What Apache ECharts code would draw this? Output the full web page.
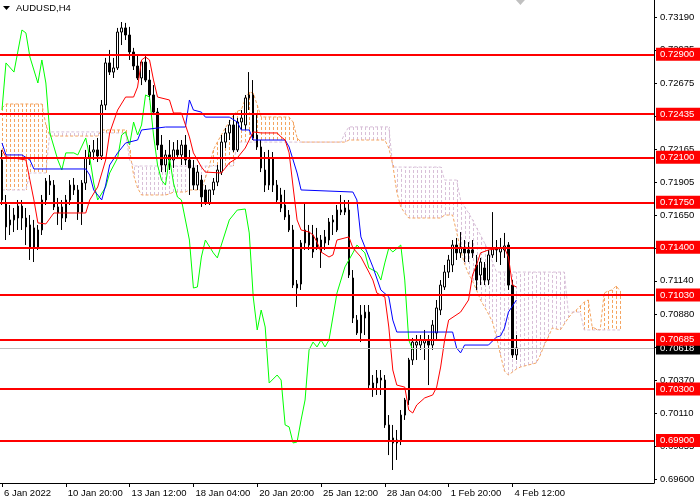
<!DOCTYPE html>
<html><head><meta charset="utf-8">
<script src="https://cdn.jsdelivr.net/npm/echarts@6/dist/echarts.min.js"></script>
<style>html,body{margin:0;padding:0;background:#fff}#c{width:700px;height:500px}</style>
</head><body><div id="c"></div>
<script>
const xTickLabels = ['6 Jan 2022','10 Jan 20:00','13 Jan 12:00','18 Jan 04:00','20 Jan 20:00','25 Jan 12:00','28 Jan 04:00','1 Feb 20:00','4 Feb 12:00'];
const yTickValues = [0.73190,0.72935,0.72675,0.72420,0.72165,0.71905,0.71650,0.71395,0.71140,0.70880,0.70625,0.70370,0.70110,0.69855,0.69600];
const levels = [0.72900,0.72435,0.72100,0.71750,0.71400,0.71030,0.70685,0.70300,0.69900];
const lastPrice = 0.70618;

const open = [0.72079,0.71745,0.71574,0.71613,0.71628,0.71721,0.71628,0.71574,0.71551,0.71403,
0.71535,0.71768,0.71915,0.71884,0.71667,0.71714,0.71628,0.71768,0.71884,0.71846,
0.71674,0.71900,0.72095,0.72141,0.72157,0.72110,0.72506,0.72833,0.72762,0.72794,
0.73073,0.73105,0.73050,0.72918,0.72809,0.72716,0.72840,0.72700,0.72584,0.72451,
0.72195,0.72040,0.72118,0.72079,0.72157,0.72118,0.72195,0.72079,0.72017,0.71884,
0.71923,0.71846,0.71745,0.71846,0.71907,0.71985,0.72218,0.72289,0.72351,0.72157,
0.72374,0.72351,0.72561,0.72584,0.72273,0.72180,0.72001,0.71884,0.72095,0.71884,
0.71807,0.71729,0.71651,0.71535,0.71084,0.71115,0.71434,0.71519,0.71496,0.71473,
0.71457,0.71434,0.71457,0.71597,0.71535,0.71690,0.71706,0.71690,0.71162,0.70835,
0.70735,0.70851,0.70897,0.70307,0.70346,0.70385,0.70369,0.70020,0.69919,0.69880,
0.69903,0.70097,0.70214,0.70525,0.70641,0.70641,0.70657,0.70680,0.70641,0.70735,
0.70913,0.71092,0.71208,0.71263,0.71418,0.71357,0.71395,0.71380,0.71380,0.71263,
0.71185,0.71240,0.71146,0.71341,0.71395,0.71364,0.71380,0.71418,0.71107,0.70564];
const close = [0.71768,0.71559,0.71613,0.71651,0.71721,0.71628,0.71559,0.71403,0.71395,0.71535,
0.71768,0.71915,0.71884,0.71714,0.71714,0.71628,0.71768,0.71884,0.71846,0.71674,
0.71900,0.72095,0.72141,0.72157,0.72110,0.72506,0.72833,0.72762,0.72794,0.73073,
0.73105,0.73050,0.72918,0.72809,0.72716,0.72840,0.72700,0.72584,0.72451,0.72195,
0.72040,0.72118,0.72079,0.72157,0.72118,0.72195,0.72079,0.72017,0.71884,0.71985,
0.71792,0.71745,0.71846,0.71907,0.72001,0.72218,0.72289,0.72351,0.72157,0.72374,
0.72405,0.72561,0.72584,0.72250,0.72180,0.72017,0.71884,0.72095,0.71884,0.71768,
0.71706,0.71636,0.71535,0.71107,0.71115,0.71434,0.71535,0.71418,0.71364,0.71395,
0.71364,0.71481,0.71597,0.71613,0.71690,0.71674,0.71674,0.71185,0.70851,0.70735,
0.70874,0.70897,0.70330,0.70346,0.70385,0.70369,0.70020,0.69903,0.69880,0.69903,
0.70097,0.70214,0.70525,0.70664,0.70664,0.70680,0.70680,0.70641,0.70796,0.70929,
0.71107,0.71208,0.71302,0.71418,0.71357,0.71403,0.71357,0.71357,0.71357,0.71146,
0.71286,0.71146,0.71341,0.71395,0.71380,0.71395,0.71411,0.71107,0.70564,0.70618];
const high = [0.72157,0.71807,0.71729,0.71706,0.71768,0.71768,0.71706,0.71651,0.71613,0.71574,
0.71807,0.71939,0.71962,0.71923,0.71784,0.71768,0.71807,0.71923,0.71939,0.71884,
0.71923,0.72157,0.72195,0.72234,0.72250,0.72545,0.72872,0.72934,0.72872,0.73105,
0.73151,0.73144,0.73113,0.72950,0.72895,0.72856,0.72895,0.72778,0.72661,0.72483,
0.72273,0.72157,0.72234,0.72218,0.72234,0.72234,0.72273,0.72157,0.72079,0.72040,
0.71962,0.71884,0.71846,0.71939,0.72040,0.72273,0.72328,0.72390,0.72428,0.72405,
0.72467,0.72584,0.72762,0.72700,0.72428,0.72234,0.72141,0.72157,0.72141,0.71923,
0.71862,0.71846,0.71690,0.71574,0.71146,0.71457,0.71752,0.71574,0.71574,0.71551,
0.71496,0.71535,0.71628,0.71651,0.71729,0.71807,0.71768,0.71768,0.71224,0.70874,
0.70952,0.70952,0.70952,0.70408,0.70447,0.70447,0.70408,0.70097,0.70020,0.69981,
0.70136,0.70230,0.70541,0.70696,0.70719,0.70719,0.70758,0.70719,0.70835,0.70991,
0.71146,0.71263,0.71341,0.71457,0.71473,0.71519,0.71457,0.71441,0.71457,0.71341,
0.71318,0.71286,0.71380,0.71674,0.71457,0.71473,0.71512,0.71441,0.71146,0.70719];
const low = [0.71729,0.71457,0.71496,0.71519,0.71535,0.71535,0.71418,0.71302,0.71286,0.71380,
0.71496,0.71729,0.71807,0.71690,0.71574,0.71535,0.71597,0.71729,0.71807,0.71613,
0.71574,0.71846,0.72040,0.72079,0.72063,0.72079,0.72467,0.72739,0.72716,0.72778,
0.72972,0.73011,0.72856,0.72778,0.72700,0.72661,0.72684,0.72545,0.72428,0.72157,
0.71985,0.71985,0.72001,0.72017,0.72095,0.72040,0.72040,0.71807,0.71846,0.71846,
0.71714,0.71729,0.71729,0.71807,0.71876,0.71962,0.72172,0.72234,0.72141,0.72141,
0.72312,0.72312,0.72467,0.72234,0.72157,0.71985,0.71830,0.71846,0.71830,0.71745,
0.71674,0.71613,0.71519,0.71084,0.70937,0.71069,0.71380,0.71380,0.71318,0.71380,
0.71240,0.71380,0.71418,0.71496,0.71519,0.71651,0.71651,0.71162,0.70812,0.70719,
0.70664,0.70719,0.70307,0.70238,0.70253,0.70253,0.69997,0.69786,0.69670,0.69748,
0.69864,0.70059,0.70175,0.70486,0.70525,0.70603,0.70525,0.70330,0.70603,0.70680,
0.70874,0.71069,0.71162,0.71208,0.71302,0.71318,0.71286,0.71286,0.71318,0.71069,
0.71107,0.71107,0.71107,0.71318,0.71286,0.71263,0.71318,0.71069,0.70541,0.70525];

const tenkan = [[0,0.72157],[1,0.72103],[6,0.72079],[8,0.71768],[9,0.71590],[11,0.71582],[13,0.71667],[21,0.71667],[22,0.71768],[24,0.71869],[26,0.72079],[27,0.72289],[29,0.72467],[31,0.72568],[33,0.72568],[34,0.72646],[35,0.72856],[36,0.72879],[37,0.72856],[38,0.72700],[39,0.72568],[42,0.72545],[43,0.72444],[45,0.72444],[47,0.72258],[48,0.72134],[50,0.72025],[51,0.71985],[55,0.71978],[57,0.72056],[59,0.72095],[61,0.72172],[63,0.72297],[65,0.72289],[69,0.72289],[70,0.72258],[71,0.72234],[72,0.72134],[73,0.71869],[74,0.71613],[75,0.71535],[77,0.71519],[78,0.71496],[79,0.71441],[80,0.71364],[82,0.71325],[83,0.71341],[84,0.71457],[87,0.71481],[88,0.71395],[90,0.71325],[92,0.71208],[93,0.71146],[94,0.71045],[96,0.71015],[97,0.70781],[98,0.70447],[99,0.70330],[101,0.70314],[102,0.70136],[103,0.70113],[104,0.70175],[106,0.70230],[108,0.70253],[109,0.70314],[110,0.70470],[111,0.70680],[112,0.70835],[115,0.70897],[117,0.70991],[118,0.71185],[119,0.71263],[120,0.71357],[122,0.71380],[126,0.71395],[127,0.71325],[128,0.71107],[129,0.71092]];
const kijun = [[0,0.72211],[1,0.72118],[5,0.72118],[7,0.72079],[8,0.72009],[21,0.72009],[22,0.71962],[23,0.71846],[25,0.71768],[26,0.71884],[27,0.72040],[29,0.72134],[31,0.72211],[34,0.72234],[35,0.72312],[41,0.72335],[46,0.72335],[47,0.72545],[48,0.72467],[50,0.72451],[51,0.72412],[57,0.72412],[59,0.72374],[60,0.72312],[62,0.72312],[63,0.72234],[71,0.72234],[72,0.72180],[73,0.72079],[74,0.71978],[75,0.71846],[88,0.71830],[89,0.71768],[90,0.71481],[91,0.71403],[93,0.71248],[95,0.71069],[97,0.71015],[98,0.70835],[99,0.70742],[113,0.70742],[114,0.70618],[115,0.70580],[116,0.70641],[122,0.70641],[124,0.70703],[125,0.70711],[126,0.70773],[127,0.70897],[129,0.70991]];
const chikou = [[0,0.72467],[1,0.72833],[3,0.72762],[5,0.73089],[6,0.73066],[7,0.72879],[8,0.72778],[9,0.72677],[10,0.72856],[11,0.72677],[12,0.72289],[14,0.72079],[15,0.72001],[16,0.72134],[18,0.72134],[19,0.72118],[21,0.72250],[22,0.72102],[23,0.71900],[24,0.71768],[26,0.71869],[27,0.71978],[29,0.72095],[30,0.72273],[31,0.72297],[32,0.72195],[33,0.72374],[34,0.72273],[35,0.72351],[36,0.72584],[37,0.72568],[38,0.72273],[39,0.72040],[40,0.71923],[41,0.71884],[42,0.72095],[43,0.71900],[44,0.71791],[45,0.71768],[47,0.71457],[48,0.71084],[49,0.71092],[50,0.71325],[51,0.71457],[53,0.71357],[54,0.71318],[55,0.71418],[57,0.71613],[59,0.71690],[61,0.71698],[62,0.71512],[63,0.71015],[64,0.70758],[65,0.70913],[66,0.70781],[67,0.70346],[69,0.70408],[70,0.70369],[71,0.70020],[72,0.70005],[73,0.69880],[74,0.69888],[75,0.70059],[76,0.70214],[77,0.70603],[78,0.70664],[79,0.70626],[80,0.70680],[81,0.70626],[82,0.70680],[84,0.71045],[86,0.71248],[88,0.71357],[89,0.71418],[91,0.71357],[92,0.71240],[94,0.71208],[95,0.71146],[96,0.71279],[97,0.71395],[98,0.71364],[100,0.71418],[101,0.71146],[102,0.70680],[103,0.70603]];

const spanA = [0.72483,
0.72514,0.72514,0.72514,0.72514,0.72514,0.72514,0.72514,0.72514,0.72514,0.72514,
0.72351,
0.72265,0.72265,0.72265,0.72265,0.72265,0.72265,0.72265,0.72265,0.72265,0.72265,0.72265,0.72265,0.72265,
0.72312,0.72312,0.72312,0.72312,0.72312,0.72312,0.72312,
0.72157,0.71962,0.71861,
0.71807,0.71807,0.71807,0.71807,0.71807,0.71807,0.71807,
0.71815,0.71830,0.71830,0.71830,0.71830,0.71846,0.71846,0.71846,0.71846,
0.71939,0.72032,0.72157,0.72218,0.72273,0.72328,0.72374,0.72428,0.72459,0.72467,0.72553,0.72607,0.72599,0.72506,
0.72413,0.72413,0.72413,0.72413,0.72413,0.72413,0.72413,0.72413,
0.72374,0.72250,
0.72218,0.72218,0.72218,0.72218,0.72218,0.72218,0.72218,0.72218,0.72218,0.72218,0.72218,0.72218,
0.72234,0.72234,0.72234,0.72234,0.72234,0.72234,0.72234,0.72234,0.72234,0.72234,
0.72172,0.72040,0.71830,0.71714,0.71667,
0.71628,0.71628,0.71628,0.71628,0.71628,0.71628,0.71628,0.71628,0.71628,
0.71651,0.71651,0.71651,
0.71519,0.71380,0.71271,0.71193,0.71138,0.71069,0.70991,0.70937,0.70882,0.70819,
0.70704,0.70564,0.70439,0.70408,0.70431,0.70455,0.70470,0.70478,0.70486,0.70494,
0.70502,0.70564,0.70641,0.70704,0.70774,0.70766,0.70758,0.70804,0.70851,0.70890,
0.70913,0.70944,0.70975,0.70991,0.70781,0.70766,0.70758,0.71045,0.71061,0.71069,
0.71100,0.71061];
const spanB = [0.71846,0.71846,0.71846,0.71846,0.71846,0.71846,0.71846,
0.71978,0.71978,0.71978,0.71978,0.71978,
0.72297,0.72297,0.72297,0.72297,0.72297,0.72297,0.72297,0.72297,0.72297,0.72297,0.72297,0.72297,0.72297,0.72297,
0.72289,0.72289,0.72289,0.72289,0.72289,0.72289,
0.72079,
0.72032,0.72032,0.72032,0.72032,0.72032,0.72032,0.72032,0.72032,0.72032,0.72032,0.72032,0.72032,0.72032,
0.72032,0.72032,0.72032,0.72032,0.72032,0.72032,0.72032,0.72032,0.72032,0.72032,0.72032,0.72032,0.72032,
0.72218,0.72218,0.72218,0.72218,0.72218,0.72218,0.72218,0.72218,0.72218,0.72218,0.72218,0.72218,0.72218,0.72218,
0.72218,0.72218,0.72218,0.72218,0.72218,0.72218,0.72218,0.72218,0.72218,0.72218,0.72218,0.72218,0.72218,
0.72289,
0.72336,0.72336,0.72336,0.72336,0.72336,0.72336,0.72336,0.72336,0.72336,0.72336,0.72336,
0.72024,0.72024,0.72024,0.72024,0.72024,0.72024,0.72024,0.72024,0.72024,0.72024,0.72024,0.72024,0.72024,
0.71923,0.71923,0.71923,0.71923,
0.71768,0.71714,0.71667,0.71613,0.71551,0.71496,0.71434,0.71372,0.71286,
0.71208,0.71208,0.71208,0.71208,0.71208,0.71208,0.71208,0.71208,0.71208,
0.71208,0.71208,0.71208,0.71208,0.71208,0.71208,0.71208,0.71208,0.71208,
0.70897,0.70897,0.70897,0.70897,
0.70758,0.70758,0.70758,0.70758,0.70758,0.70758,0.70758,0.70758,0.70758,0.70758];

const N = 164;
const FONT = 'Liberation Sans, Arial, sans-serif';
const FS = 9.5;
const ORANGE = '#F4A460';
const THISTLE = '#D8BFD8';
const cats = Array.from({length: N}, (_, i) => String(i));
const candleData = open.map((o, i) => [o, close[i], low[i], high[i]]);
const cloudData = spanA.map((a, i) => [i, a, spanB[i]]);
const spanALine = spanA.map((a, i) => [i, a]);
const spanBLine = spanB.map((b, i) => [i, b]);
const isTick = (i) => i % 16 === 0 && i / 16 < xTickLabels.length;

const chart = echarts.init(document.getElementById('c'), null, {renderer: 'canvas'});
chart.setOption({
  animation: false,
  backgroundColor: '#ffffff',
  textStyle: {fontFamily: FONT},
  graphic: [
    {type: 'polygon', shape: {points: [[3, 6], [10, 6], [6.5, 10]]}, style: {fill: '#000'}},
    {type: 'text', left: 16, top: 3, style: {text: 'AUDUSD,H4', font: FS + 'px ' + FONT, fill: '#000'}}
  ],
  grid: {left: -2, right: 46, top: 0, bottom: 17, containLabel: false},
  xAxis: {
    type: 'category', data: cats, boundaryGap: true,
    axisLine: {lineStyle: {color: '#000', width: 1}},
    axisTick: {show: true, alignWithLabel: true, interval: (i) => isTick(i), length: 4, lineStyle: {color: '#000'}},
    axisLabel: {interval: (i) => isTick(i), formatter: (v, i) => isTick(i) ? xTickLabels[i / 16] : '',
      align: 'left', margin: 5, padding: [0, 0, 0, 2], color: '#000', fontSize: FS, fontFamily: FONT},
    splitLine: {show: false}
  },
  yAxis: {
    type: 'value', position: 'right', min: 0.69569, max: 0.73322, scale: true,
    axisLine: {show: true, lineStyle: {color: '#000', width: 1}},
    axisTick: {show: true, customValues: yTickValues, length: 3, lineStyle: {color: '#000'}},
    axisLabel: {customValues: yTickValues, formatter: (v) => v.toFixed(5), color: '#000', fontSize: FS, fontFamily: FONT, margin: 6},
    splitLine: {show: false}
  },
  series: [
    {
      type: 'custom', name: 'cloud', z: 1, data: cloudData,
      encode: {x: 0, y: [1, 2]},
      renderItem: (params, api) => {
        const k = params.dataIndex;
        const a = spanA[k], b = spanB[k];
        const p1 = api.coord([k, a]), p2 = api.coord([k, b]);
        const x = Math.round(p1[0]) + 0.5;
        return {type: 'line', shape: {x1: x, y1: p1[1], x2: x, y2: p2[1]},
          style: {stroke: a > b ? ORANGE : THISTLE, lineWidth: 1, lineDash: [3, 2]}};
      }
    },
    {type: 'line', name: 'spanA', z: 1, data: spanALine, symbol: 'none',
      lineStyle: {color: ORANGE, width: 1, type: [3, 2]}},
    {type: 'line', name: 'spanB', z: 1, data: spanBLine, symbol: 'none',
      lineStyle: {color: THISTLE, width: 1, type: [3, 2]}},
    {
      type: 'candlestick', name: 'AUDUSD', z: 2, data: candleData, barWidth: 2,
      itemStyle: {color: '#ffffff', color0: '#000000', borderColor: '#000000', borderColor0: '#000000', borderWidth: 1},
      markPoint: {silent: true, symbol: 'diamond', symbolSize: [9, 10], label: {show: false},
        itemStyle: {color: '#c0c0c0'}, data: [{coord: ['130', 0.73322]}]}
    },
    {type: 'line', name: 'chikou', z: 3, data: chikou, symbol: 'none', lineStyle: {color: '#00ff00', width: 1}},
    {type: 'line', name: 'kijun', z: 3, data: kijun, symbol: 'none', lineStyle: {color: '#0000ff', width: 1}},
    {type: 'line', name: 'tenkan', z: 3, data: tenkan, symbol: 'none', lineStyle: {color: '#ff0000', width: 1}},
    {
      type: 'line', name: 'levels', z: 5, data: [],
      markLine: {
        silent: true, symbol: ['none', 'none'], precision: 5,
        label: {show: true, position: 'end', distance: 2, formatter: (p) => Number(p.value).toFixed(5),
          backgroundColor: '#ff0000', color: '#ffffff', padding: [2, 12, 1, 4], fontSize: FS, fontFamily: FONT},
        lineStyle: {color: '#ff0000', width: 2, type: 'solid'},
        data: [
          {yAxis: lastPrice, lineStyle: {color: '#c0c0c0', width: 1}, label: {backgroundColor: '#000000', color: '#ffffff'}}
        ].concat(levels.map(v => ({yAxis: v})))
      }
    }
  ]
});
</script>
</body></html>
